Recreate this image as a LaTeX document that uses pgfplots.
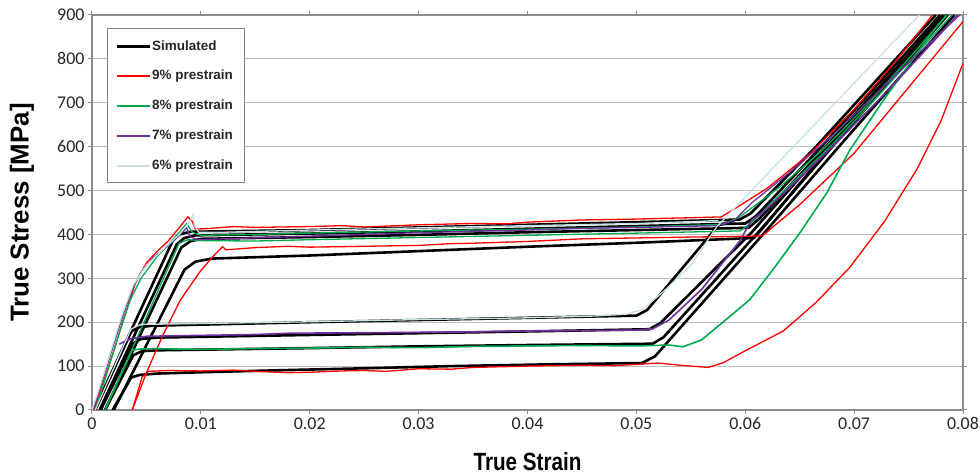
\documentclass[border=0pt]{standalone}
\usepackage{pgfplots}
\pgfplotsset{compat=1.18}
\usepackage{fontspec}
\setmainfont{Liberation Sans}
\newfontfamily\carl{Carlito}
\usetikzlibrary{calc}
\definecolor{expred}{RGB}{255,0,0}
\definecolor{expgreen}{RGB}{0,170,80}
\definecolor{exppurple}{RGB}{112,48,160}
\definecolor{explblue}{RGB}{200,225,228}
\definecolor{gridgray}{RGB}{190,190,190}
\definecolor{axgray}{RGB}{140,140,140}
\pgfplotsset{
  simstyle/.style={draw=black, line width=2.6bp},
  redstyle/.style={draw=expred, line width=1.3bp},
  greenstyle/.style={draw=expgreen, line width=1.3bp},
  purplestyle/.style={draw=exppurple, line width=1.3bp},
  bluestyle/.style={draw=explblue, line width=1.3bp},
}
\begin{document}
\begin{tikzpicture}
\begin{axis}[
  scale only axis, width=871bp, height=395bp,
  xmin=0, xmax=0.08, ymin=0, ymax=900,
  xtick={0,0.01,0.02,0.03,0.04,0.05,0.06,0.07,0.08},
  ytick={0,100,200,300,400,500,600,700,800,900},
  scaled x ticks=false,
  ymajorgrids, grid style={gridgray, line width=1bp},
  axis line style={axgray, line width=1.3bp},
  tick style={axgray, line width=1bp}, tick align=outside, major tick length=4bp,
  /pgf/number format/assume math mode=true,
  xticklabel style={/pgf/number format/fixed, /pgf/number format/precision=2},
  tick label style={font=\carl\fontsize{18}{18}\selectfont, text=black!85},
  xlabel={True Strain}, ylabel={True Stress [MPa]},
  xlabel style={font=\bfseries\fontsize{25}{25}\selectfont, xscale=0.83, at={(axis description cs:0.5,-0.1316)}, anchor=center},
  ylabel style={font=\bfseries\fontsize{26}{26}\selectfont, at={(axis description cs:-0.0804,0.5)}, anchor=center},
  clip=true,
]
\coordinate (bl) at (rel axis cs:0,0);
\coordinate (tr) at (rel axis cs:1,1);

% ---- Simulated (black)
\addplot[simstyle] coordinates {(0.0002,0) (0.0074,385) (0.0080,400) (0.0090,406) (0.02,410) (0.03,416) (0.04,422) (0.05,428) (0.0595,434) (0.0605,448) (0.0665,600) (0.0775,900)};
\addplot[simstyle] coordinates {(0.0007,0) (0.0078,378) (0.0085,392) (0.0095,398) (0.02,402) (0.03,407) (0.04,413) (0.05,419) (0.0600,425) (0.0610,442) (0.0670,600) (0.0779,900)};
\addplot[simstyle] coordinates {(0.0012,0) (0.0082,370) (0.0090,384) (0.0100,390) (0.02,394) (0.03,399) (0.04,405) (0.05,410) (0.0603,415) (0.0613,436) (0.0674,600) (0.0782,900)};
\addplot[simstyle] coordinates {(0.0020,0) (0.0085,320) (0.0095,338) (0.0110,345) (0.02,352) (0.03,362) (0.04,372) (0.05,381) (0.0608,392) (0.0618,420) (0.0678,600) (0.0785,900)};
\addplot[simstyle] coordinates {(0.0003,0) (0.0036,178) (0.0042,188) (0.0055,192) (0.02,200) (0.03,205) (0.04,210) (0.0500,215) (0.0510,228) (0.0575,420) (0.0590,432)};
\addplot[simstyle] coordinates {(0.0008,0) (0.0038,152) (0.0045,162) (0.0060,165) (0.02,171) (0.03,175) (0.04,179) (0.0512,184) (0.0522,198) (0.0606,405) (0.0675,600) (0.0782,900)};
\addplot[simstyle] coordinates {(0.0012,0) (0.0038,125) (0.0046,134) (0.0060,136) (0.02,141) (0.03,145) (0.04,148) (0.0515,151) (0.0525,166) (0.0612,405) (0.0680,600) (0.0786,900)};
\addplot[simstyle] coordinates {(0.0019,0) (0.0036,74) (0.0044,80) (0.0060,83) (0.01,86) (0.018,91) (0.025,95) (0.033,100) (0.042,104) (0.0505,107) (0.0517,122) (0.0618,405) (0.0686,600) (0.0792,900)};

% ---- 9% prestrain (red)
\addplot[redstyle] coordinates {(0.0002,0) (0.0010,60) (0.0020,135) (0.0030,215) (0.0040,290) (0.0050,335) (0.0060,362) (0.0070,385) (0.0080,415) (0.0088,440) (0.0092,430) (0.0095,412) (0.011,414) (0.013,418) (0.015,416) (0.02,418) (0.023,420) (0.025,417) (0.03,422) (0.035,425) (0.038,424) (0.04,428) (0.045,433) (0.05,435) (0.053,437) (0.055,438) (0.0578,440) (0.0590,458) (0.062,505) (0.066,585) (0.070,685) (0.0735,785) (0.0772,900)};
\addplot[redstyle] coordinates {(0.0037,0) (0.0050,85) (0.0065,170) (0.0081,250) (0.0100,318) (0.0113,355) (0.0120,372) (0.0123,365) (0.015,370) (0.018,373) (0.02,371) (0.025,373) (0.03,375) (0.033,379) (0.035,380) (0.04,384) (0.045,390) (0.05,392) (0.055,394) (0.0605,396) (0.0616,397) (0.0622,410) (0.065,468) (0.070,585) (0.075,735) (0.080,885)};
\addplot[redstyle] coordinates {(0.0037,0) (0.0046,75) (0.0052,88) (0.0070,90) (0.010,89) (0.013,91) (0.015,88) (0.018,85) (0.020,86) (0.023,89) (0.025,90) (0.027,88) (0.030,94) (0.033,93) (0.035,97) (0.040,100) (0.045,102) (0.048,101) (0.050,104) (0.052,107) (0.054,102) (0.0566,97) (0.0580,108) (0.0600,135) (0.0635,180) (0.0665,245) (0.0696,325) (0.0728,430) (0.0758,550) (0.0780,660) (0.0800,790)};

% ---- 8% prestrain (green)
\addplot[greenstyle] coordinates {(0.0003,0) (0.0012,70) (0.0025,175) (0.0035,250) (0.0045,300) (0.0060,350) (0.0075,390) (0.0087,425) (0.0092,405) (0.0100,398) (0.015,400) (0.02,403) (0.03,408) (0.04,412) (0.05,417) (0.058,423) (0.0595,440) (0.063,505) (0.067,590) (0.071,690) (0.075,800) (0.0785,900)};
\addplot[greenstyle] coordinates {(0.0012,0) (0.0080,380) (0.0088,388) (0.0100,386) (0.015,385) (0.02,388) (0.03,393) (0.04,398) (0.05,403) (0.0595,408) (0.0605,425) (0.064,510) (0.068,605) (0.072,710) (0.076,820) (0.0790,900)};
\addplot[greenstyle, line width=1.6bp] coordinates {(0.0012,0) (0.0037,137) (0.0050,140) (0.010,138) (0.015,140) (0.02,141) (0.025,143) (0.03,142) (0.035,145) (0.04,146) (0.045,147) (0.050,146) (0.053,148) (0.0543,144) (0.0560,160) (0.0577,195) (0.0604,251) (0.0627,325) (0.065,403) (0.0675,495) (0.0696,592) (0.0727,706) (0.0749,782) (0.0770,855) (0.0785,900)};

% ---- 7% prestrain (purple)
\addplot[purplestyle] coordinates {(0.0001,0) (0.0010,70) (0.0020,150) (0.0029,220) (0.0037,275) (0.0044,310) (0.0055,345) (0.0069,372) (0.0080,398) (0.0087,415) (0.0090,395) (0.0097,388) (0.012,390) (0.02,396) (0.03,404) (0.04,410) (0.045,414) (0.05,416) (0.0575,420) (0.0590,432) (0.0605,470) (0.064,540) (0.068,625) (0.072,720) (0.076,815) (0.0797,900)};
\addplot[purplestyle, line width=1.6bp] coordinates {(0.0025,150) (0.0035,162) (0.0050,168) (0.010,170) (0.015,172) (0.0182,175) (0.025,176) (0.03,177) (0.035,178) (0.04,180) (0.045,181) (0.05,182) (0.0515,185) (0.0530,205) (0.0560,275) (0.0595,385) (0.0605,430) (0.062,458) (0.064,505) (0.068,600) (0.072,700) (0.076,805) (0.0795,900)};

% ---- 6% prestrain (light blue)
\addplot[bluestyle] coordinates {(0.0000,0) (0.0008,60) (0.0018,140) (0.0028,220) (0.0038,285) (0.0050,330) (0.0065,365) (0.0080,400) (0.0090,430) (0.0093,445) (0.0094,420) (0.0098,405) (0.012,405) (0.02,410) (0.03,415) (0.04,420) (0.05,425) (0.056,430) (0.0575,432)};
\addplot[bluestyle] coordinates {(0.0003,0) (0.0036,185) (0.0045,195) (0.010,197) (0.02,201) (0.03,206) (0.04,210) (0.046,214) (0.049,218) (0.0505,228) (0.0525,270) (0.0550,330) (0.0574,418) (0.0600,485) (0.065,615) (0.070,745) (0.0760,900)};

% ---- legend (frame, sample lines, labels)
\draw[gray, line width=0.8bp, fill=white] (rel axis cs:0.0172,0.967) rectangle (rel axis cs:0.1745,0.5772);
\draw[black, line width=3bp]       (rel axis cs:0.0287,0.9215) -- (rel axis cs:0.0666,0.9215);
\draw[expred, line width=1.5bp]    (rel axis cs:0.0287,0.8456) -- (rel axis cs:0.0666,0.8456);
\draw[expgreen, line width=1.5bp]  (rel axis cs:0.0287,0.7696) -- (rel axis cs:0.0666,0.7696);
\draw[exppurple, line width=1.5bp] (rel axis cs:0.0287,0.6937) -- (rel axis cs:0.0666,0.6937);
\draw[explblue, line width=1.5bp]  (rel axis cs:0.0287,0.6177) -- (rel axis cs:0.0666,0.6177);
\begin{scope}[every node/.style={anchor=west, inner sep=0pt, font=\bfseries\fontsize{13.5}{13.5}\selectfont, text=black!85}]
\node at (rel axis cs:0.0689,0.9215) {Simulated};
\node at (rel axis cs:0.0689,0.8456) {9\% prestrain};
\node at (rel axis cs:0.0689,0.7696) {8\% prestrain};
\node at (rel axis cs:0.0689,0.6937) {7\% prestrain};
\node at (rel axis cs:0.0689,0.6177) {6\% prestrain};
\end{scope}
\end{axis}
\pgfresetboundingbox
\path[use as bounding box] ($(bl)+(-92bp,-65bp)$) rectangle ($(tr)+(17bp,15bp)$);
\end{tikzpicture}
\end{document}
